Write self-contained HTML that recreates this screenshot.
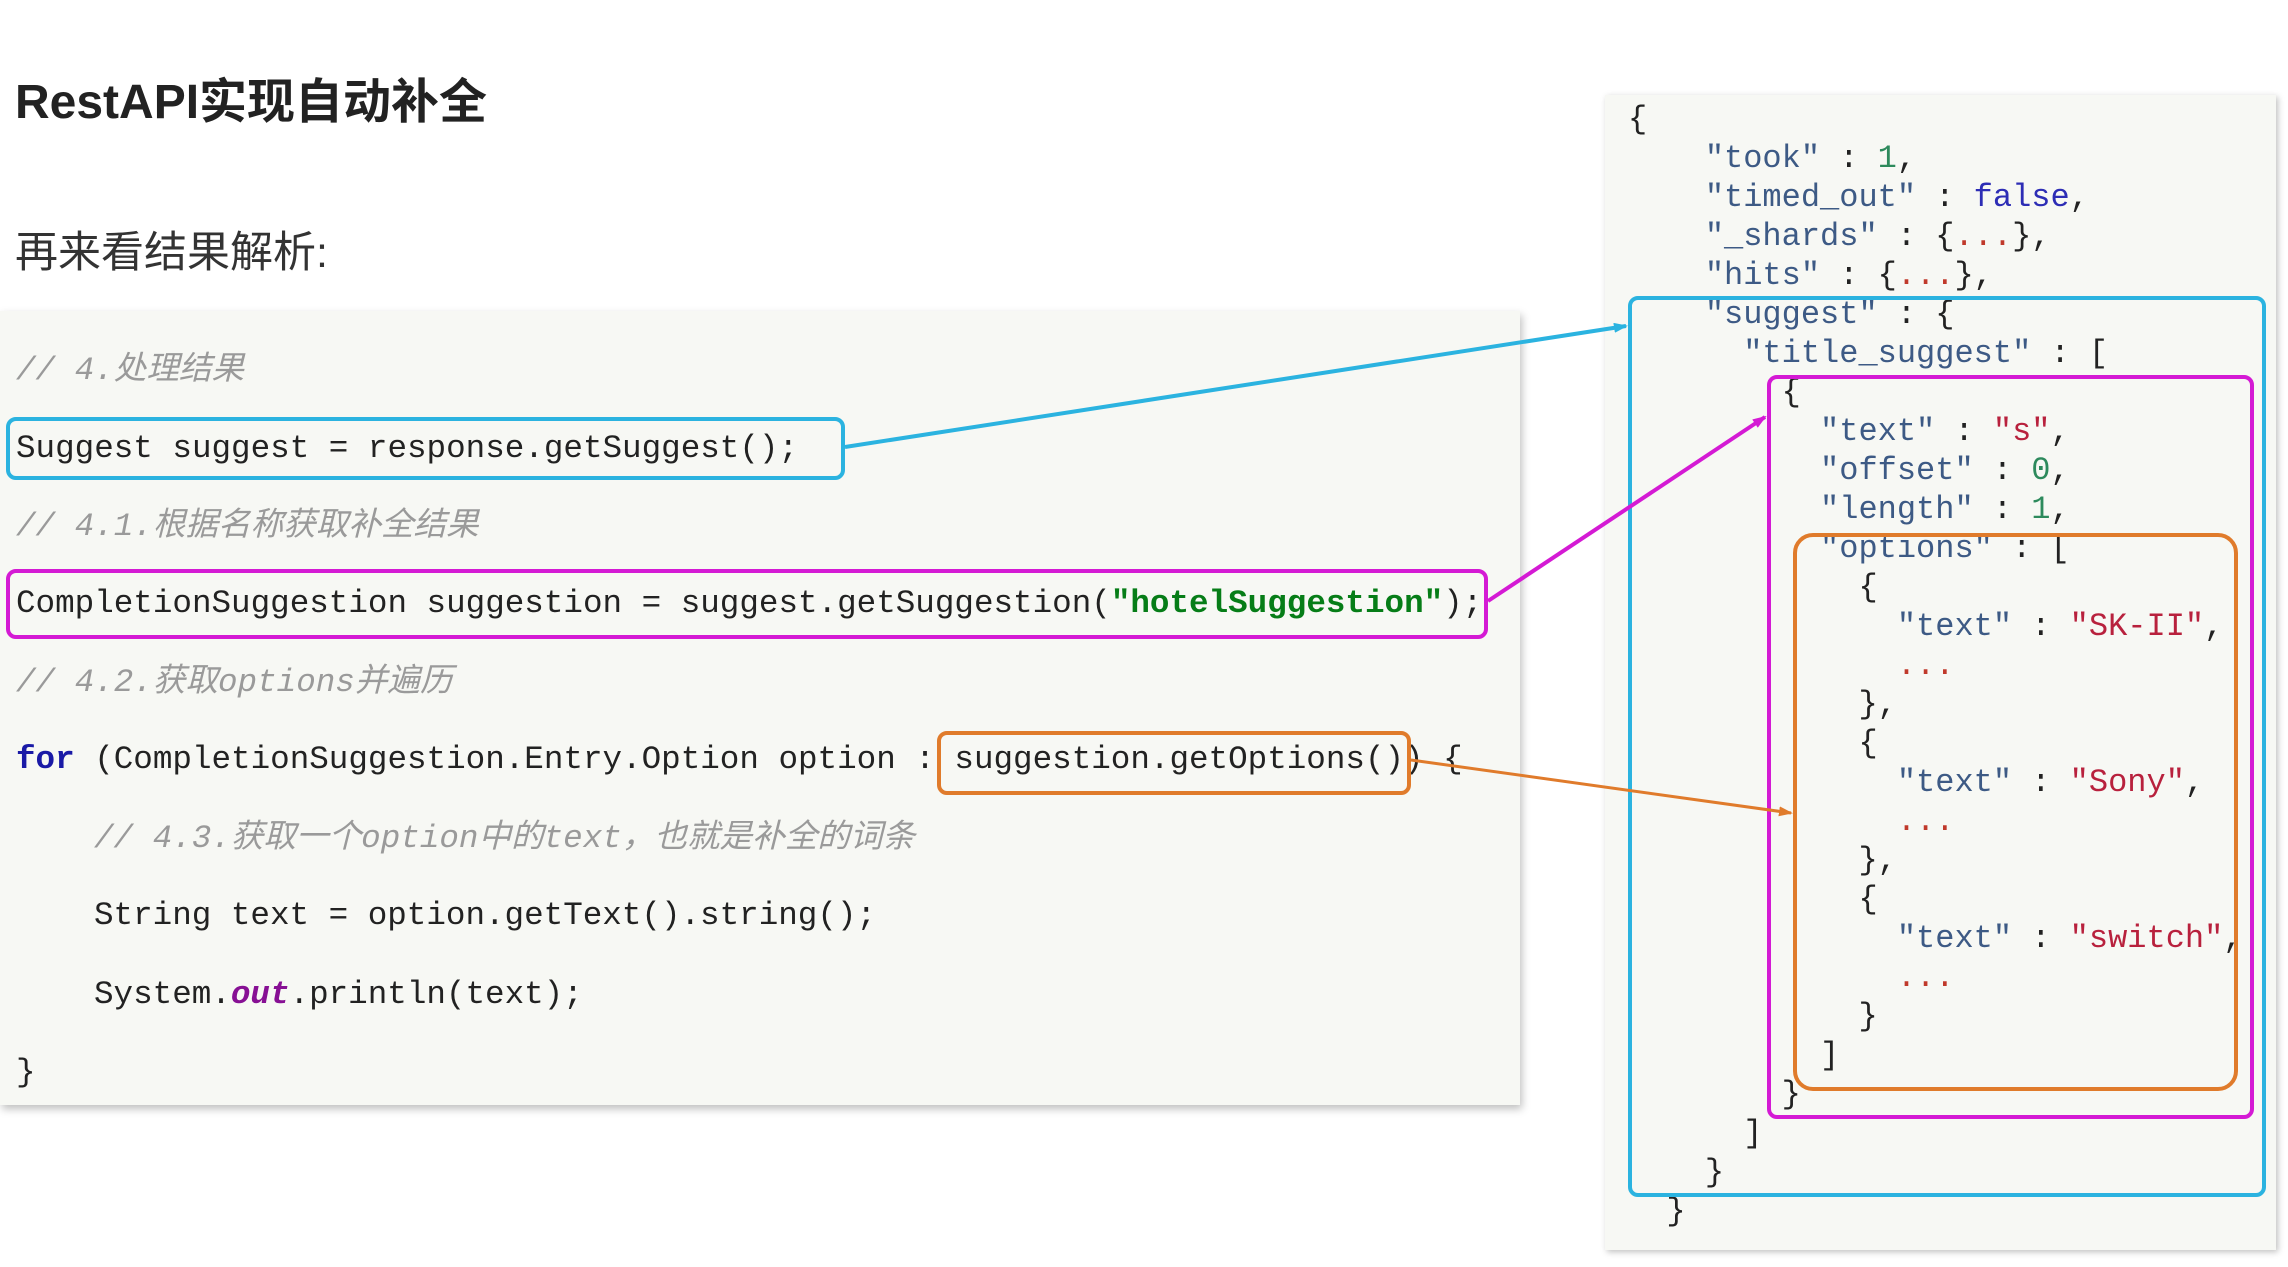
<!DOCTYPE html>
<html><head><meta charset="utf-8"><style>
body{margin:0;width:2288px;height:1267px;background:#fff;position:relative;overflow:hidden;font-family:"Liberation Sans","Noto Sans CJK SC",sans-serif;}
.t{position:absolute;white-space:pre;}
.m{font-family:"Liberation Mono","Noto Sans CJK SC",monospace;font-size:32px;line-height:40px;color:#222;}
.L{font-size:32.6px;}
.c{color:#9a9a9a;font-style:italic;}
.k{color:#3d5a85;}
.s{color:#b8213d;}
.n{color:#2d8a5c;}
.b{color:#2d2db5;}
.r{color:#c0392b;}
.box{position:absolute;border-radius:10px;box-sizing:border-box;}
</style></head><body>
<div class="t" style="left:15px;top:62px;font-size:48px;font-weight:bold;color:#222;">RestAPI实现自动补全</div>
<div class="t" style="left:15px;top:218px;font-size:43px;color:#333;">再来看结果解析:</div>

<div style="position:absolute;left:0;top:311px;width:1520px;height:794px;background:#f7f8f4;box-shadow:2px 4px 8px rgba(0,0,0,0.25);"></div>
<div style="position:absolute;left:1605px;top:95px;width:671px;height:1155px;background:#f7f8f4;box-shadow:2px 2px 6px rgba(0,0,0,0.25);"></div>

<div class="t m L c" style="left:16px;top:351px;">// 4.处理结果</div>
<div class="t m L" style="left:16px;top:429px;">Suggest suggest = response.getSuggest();</div>
<div class="t m L c" style="left:16px;top:507px;">// 4.1.根据名称获取补全结果</div>
<div class="t m L" style="left:16px;top:584px;">CompletionSuggestion suggestion = suggest.getSuggestion(<b style="color:#067d17">"hotelSuggestion"</b>);</div>
<div class="t m L c" style="left:16px;top:663px;">// 4.2.获取options并遍历</div>
<div class="t m L" style="left:16px;top:740px;"><b style="color:#1a1aa6">for</b> (CompletionSuggestion.Entry.Option option : suggestion.getOptions()) {</div>
<div class="t m L c" style="left:94px;top:819px;">// 4.3.获取一个option中的text，也就是补全的词条</div>
<div class="t m L" style="left:94px;top:896px;">String text = option.getText().string();</div>
<div class="t m L" style="left:94px;top:975px;">System.<b style="color:#871094;font-style:italic">out</b>.println(text);</div>
<div class="t m L" style="left:16px;top:1053px;">}</div>

<div class="t m" style="left:1628px;top:100px;line-height:39px;">{
    <span class="k">"took"</span> : <span class="n">1</span>,
    <span class="k">"timed_out"</span> : <span class="b">false</span>,
    <span class="k">"_shards"</span> : {<span class="r">...</span>},
    <span class="k">"hits"</span> : {<span class="r">...</span>},
    <span class="k">"suggest"</span> : {
      <span class="k">"title_suggest"</span> : [
        {
          <span class="k">"text"</span> : <span class="s">"s"</span>,
          <span class="k">"offset"</span> : <span class="n">0</span>,
          <span class="k">"length"</span> : <span class="n">1</span>,
          <span class="k">"options"</span> : [
            {
              <span class="k">"text"</span> : <span class="s">"SK-II"</span>,
              <span class="r">...</span>
            },
            {
              <span class="k">"text"</span> : <span class="s">"Sony"</span>,
              <span class="r">...</span>
            },
            {
              <span class="k">"text"</span> : <span class="s">"switch"</span>,
              <span class="r">...</span>
            }
          ]
        }
      ]
    }
  }</div>

<div class="box" style="left:6px;top:417px;width:839px;height:63px;border:4px solid #2bb3e0;"></div>
<div class="box" style="left:6px;top:569px;width:1482px;height:70px;border:4px solid #d41ad4;"></div>
<div class="box" style="left:937px;top:731px;width:474px;height:64px;border:4px solid #e07b2b;"></div>
<div class="box" style="left:1628px;top:296px;width:638px;height:901px;border:4px solid #2bb3e0;"></div>
<div class="box" style="left:1767px;top:375px;width:487px;height:744px;border:4px solid #d41ad4;"></div>
<div class="box" style="left:1793px;top:533px;width:445px;height:558px;border:4px solid #e07b2b;border-radius:20px;"></div>

<svg width="2288" height="1267" style="position:absolute;left:0;top:0;">
<defs>
<marker id="ab" markerWidth="14" markerHeight="10" refX="12" refY="5" orient="auto" markerUnits="userSpaceOnUse"><path d="M0,0 L14,5 L0,10 z" fill="#2bb3e0"/></marker>
<marker id="am" markerWidth="14" markerHeight="10" refX="12" refY="5" orient="auto" markerUnits="userSpaceOnUse"><path d="M0,0 L14,5 L0,10 z" fill="#d41ad4"/></marker>
<marker id="ao" markerWidth="14" markerHeight="10" refX="12" refY="5" orient="auto" markerUnits="userSpaceOnUse"><path d="M0,0 L14,5 L0,10 z" fill="#e07b2b"/></marker>
</defs>
<line x1="845" y1="447" x2="1626" y2="326" stroke="#2bb3e0" stroke-width="4" marker-end="url(#ab)"/>
<line x1="1488" y1="601" x2="1765" y2="417" stroke="#d41ad4" stroke-width="4" marker-end="url(#am)"/>
<line x1="1411" y1="760" x2="1791" y2="813" stroke="#e07b2b" stroke-width="3" marker-end="url(#ao)"/>
</svg>
</body></html>
